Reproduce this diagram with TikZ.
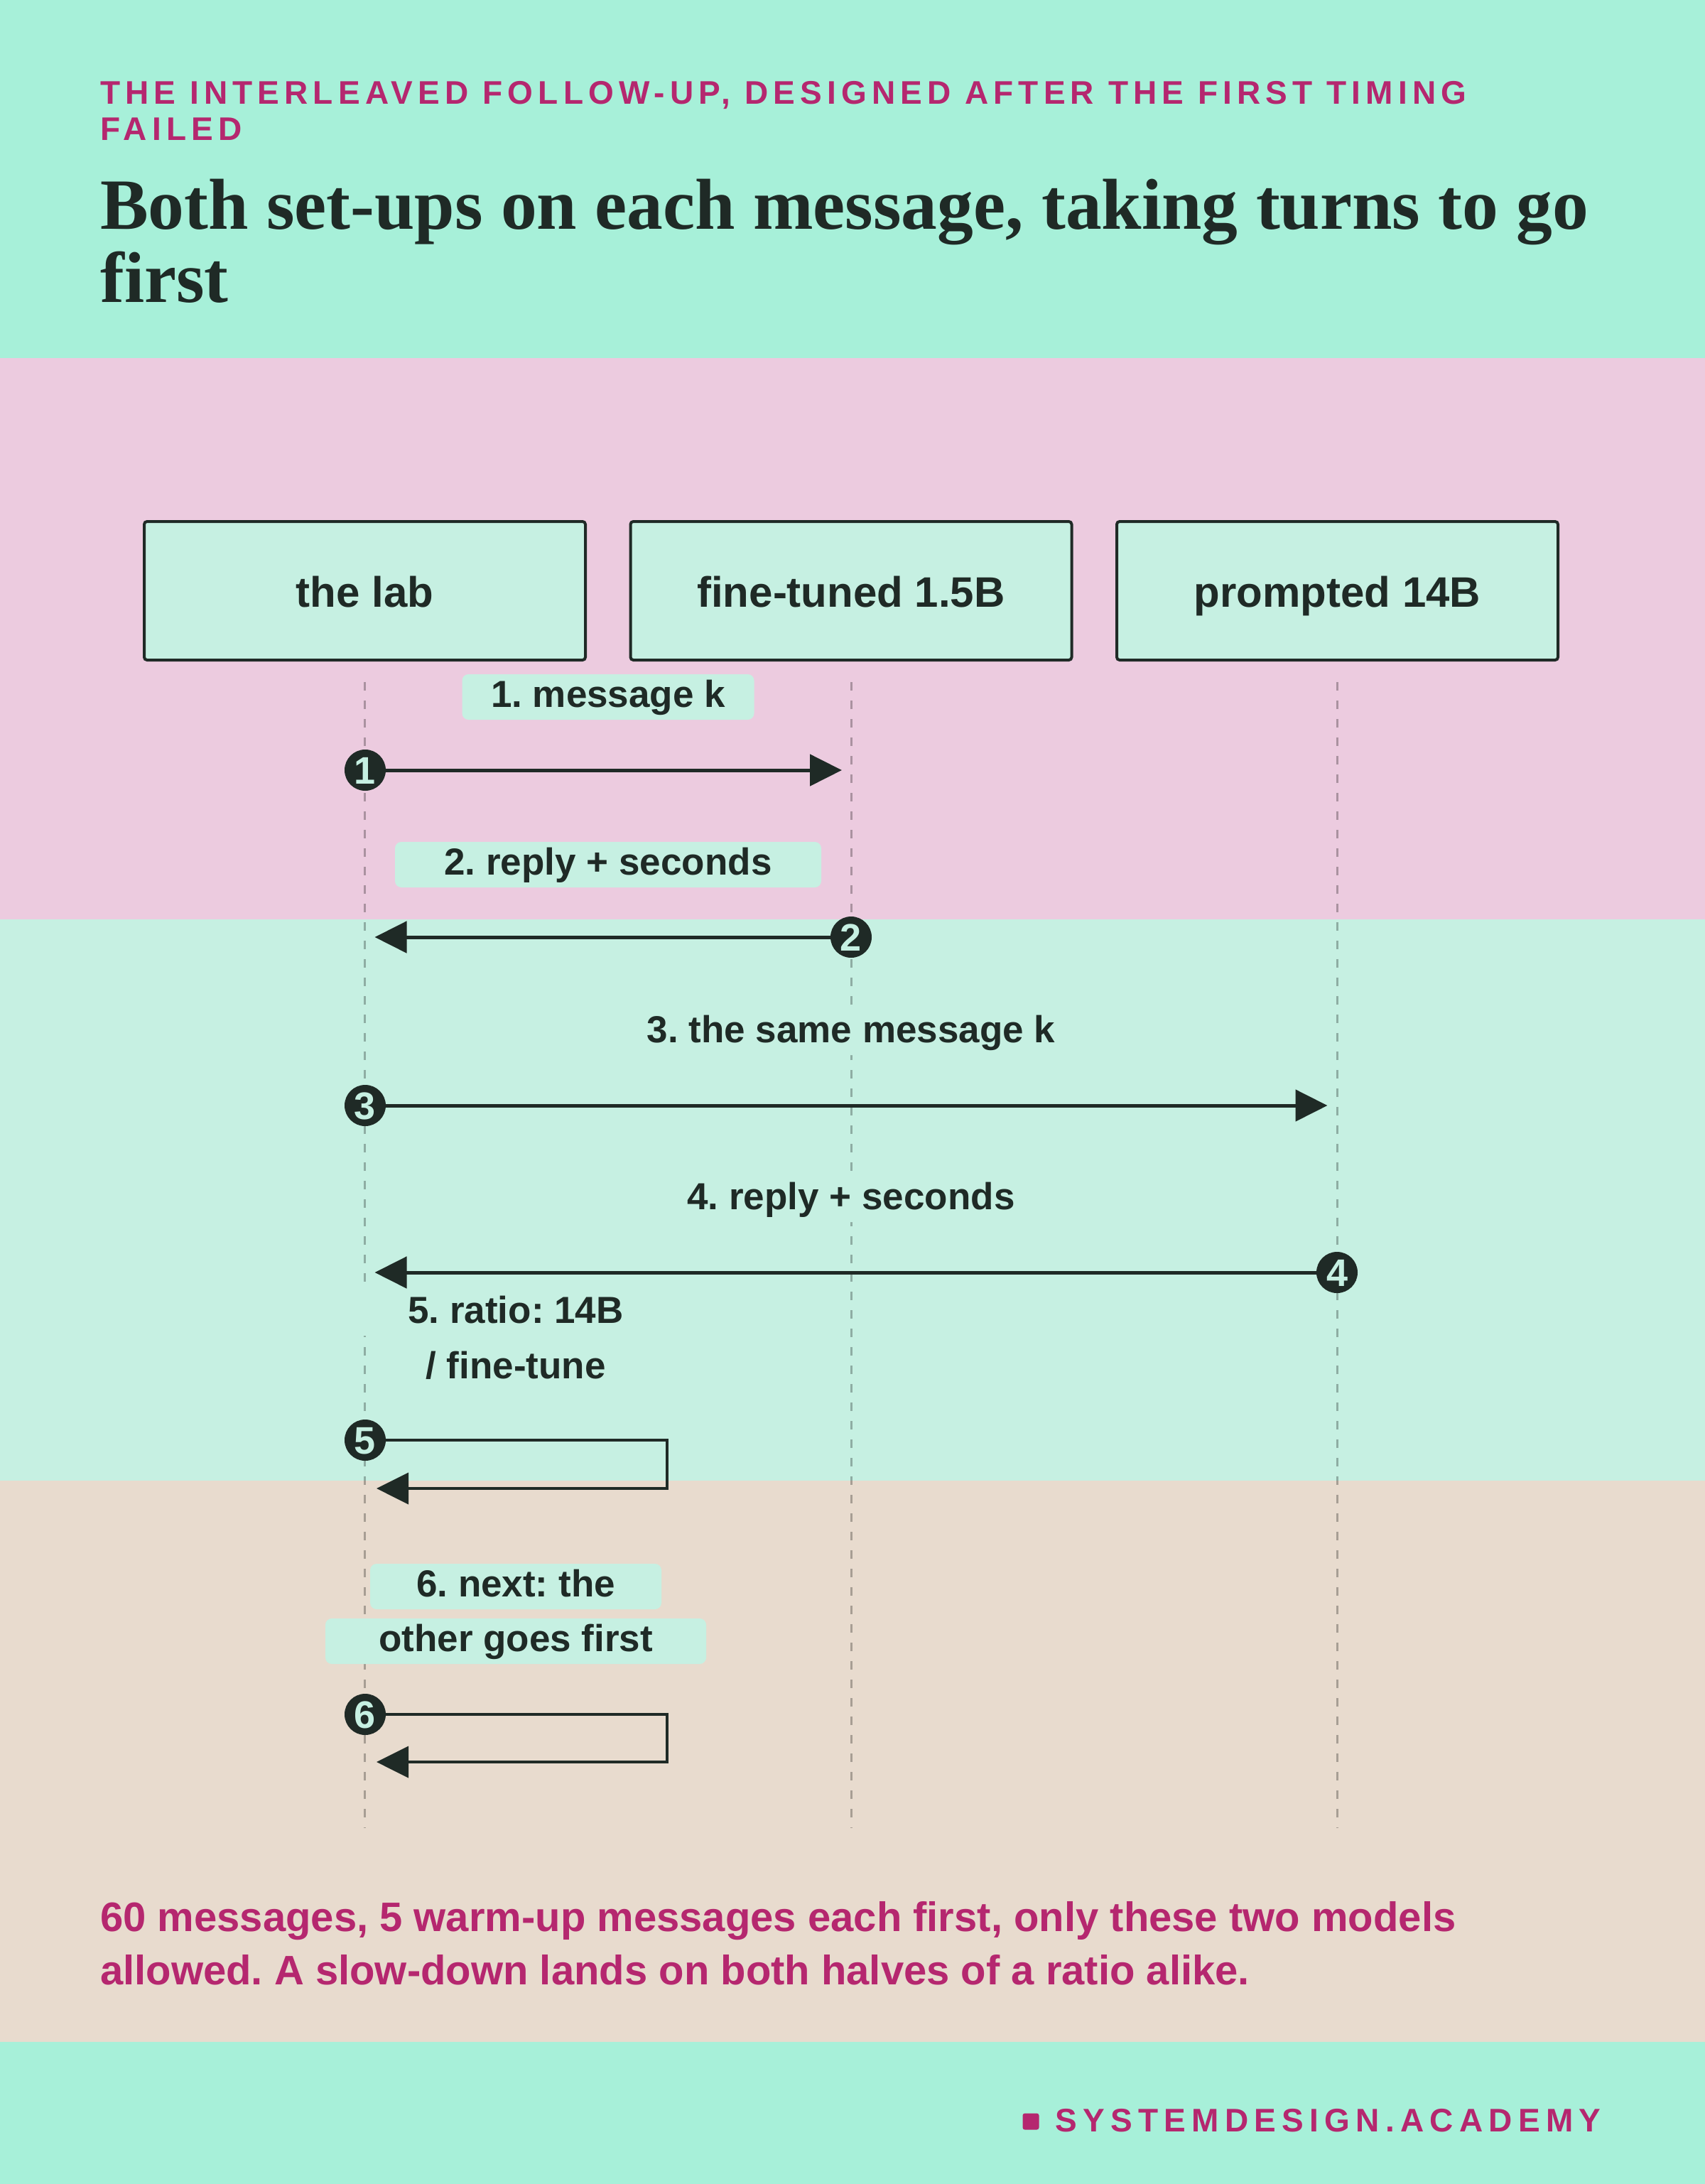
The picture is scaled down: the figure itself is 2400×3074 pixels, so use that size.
\documentclass[tikz,border=0pt]{standalone}
\usepackage{fontspec}
\setmainfont{Liberation Sans}
\newfontfamily\titlefont{Liberation Serif}
\newfontfamily\trackA[LetterSpace=15.5]{Liberation Sans}
\newfontfamily\trackB[LetterSpace=18]{Liberation Sans}
\usetikzlibrary{arrows.meta}
\frenchspacing
\definecolor{mintA}{HTML}{A7F0D9}
\definecolor{pinkB}{HTML}{ECCBDF}
\definecolor{mintC}{HTML}{C6F0E2}
\definecolor{beigeD}{HTML}{E8DBCE}
\definecolor{inkD}{HTML}{1F2A26}
\definecolor{magE}{HTML}{B5276F}
\tikzset{
  participant/.style={draw=inkD, line width=4pt, fill=mintC, rounded corners=4pt,
    minimum width=621pt, minimum height=195pt, inner sep=0pt, text=inkD,
    text height=58pt, text depth=13pt,
    font=\fontsize{60}{72}\selectfont\bfseries},
  lifeline/.style={draw=black, draw opacity=0.28, line width=3pt, dash pattern=on 12pt off 14pt},
  msglabel/.style={fill=mintC, rounded corners=9pt, text=inkD, inner sep=0pt,
    minimum height=64pt, text height=39pt, text depth=11pt,
    font=\fontsize{53}{64}\selectfont\bfseries},
  stepdot/.style={circle, fill=inkD, minimum size=58pt, inner sep=0pt, text=mintC,
    text height=39pt, text depth=0pt,
    font=\fontsize{54}{54}\selectfont\bfseries},
  msg/.style={draw=inkD, line width=5pt, -{Triangle[length=45pt,width=44pt]}},
  loopmsg/.style={draw=inkD, line width=4pt, -{Triangle[length=45pt,width=44pt]}},
  plain/.style={inner sep=0pt, anchor=base west},
}
\begin{document}
\begin{tikzpicture}[x=1pt,y=-1pt]
\useasboundingbox (0,0) rectangle (2400,3074);
% bands
\fill[mintA] (0,0) rectangle (2400,504);
\fill[pinkB] (0,504) rectangle (2400,1294);
\fill[mintC] (0,1294) rectangle (2400,2084);
\fill[beigeD] (0,2084) rectangle (2400,2874);
\fill[mintA] (0,2874) rectangle (2400,3074);
% header
\node[plain, text=magE, font=\trackA\fontsize{46}{51}\selectfont\bfseries] (hdr1) at (141,146) {THE INTERLEAVED FOLLOW-UP, DESIGNED AFTER THE FIRST TIMING};
\node[plain, text=magE, font=\trackA\fontsize{46}{51}\selectfont\bfseries] (hdr2) at (141,197) {FAILED};
\node[plain, text=inkD, font=\titlefont\fontsize{101.5}{103}\selectfont\bfseries] (ttl1) at (141,322) {Both set-ups on each message, taking turns to go};
\node[plain, text=inkD, font=\titlefont\fontsize{101.5}{103}\selectfont\bfseries] (ttl2) at (141,425) {first};
% participants
\node[participant] (lab) at (513.5,831.5) {the lab};
\node[participant] (ft) at (1198,831.5) {fine-tuned 1.5B};
\node[participant] (pr) at (1882.5,831.5) {prompted 14B};
% lifelines
\coordinate (lifetop) at (0,960);
\coordinate (lifebot) at (0,2573);
\draw[lifeline] (lab |- lifetop) -- (lab |- lifebot);
\draw[lifeline] (ft |- lifetop) -- (ft |- lifebot);
\draw[lifeline] (pr |- lifetop) -- (pr |- lifebot);
% message labels
\node[msglabel, minimum width=411pt] (m1) at (856,981) {1. message k};
\node[msglabel, minimum width=600pt] (m2) at (856,1217) {2. reply + seconds};
\node[msglabel, minimum width=712pt] (m3) at (1198,1453) {3. the same message k};
\node[msglabel, minimum width=600pt] (m4) at (1198,1688) {4. reply + seconds};
\node[msglabel, minimum width=444pt] (m5a) at (726,1848) {5. ratio: 14B};
\node[msglabel, minimum width=377pt] (m5b) at (726,1926) {/ fine-tune};
\node[msglabel, minimum width=410pt] (m6a) at (726,2233) {6. next: the};
\node[msglabel, minimum width=536pt] (m6b) at (726,2310) {other goes first};
% step dots
\node[stepdot] (c1) at (514,1084) {1};
\node[stepdot] (c2) at (1198,1319) {2};
\node[stepdot] (c3) at (514,1556) {3};
\node[stepdot] (c4) at (1882,1791) {4};
\node[stepdot] (c5) at (514,2027) {5};
\node[stepdot] (c6) at (514,2413) {6};
% arrows
\draw[msg, shorten >=13pt] (c1) -- (c1 -| ft);
\draw[msg, shorten >=14pt] (c2) -- (c2 -| lab);
\draw[msg, shorten >=14pt] (c3) -- (c3 -| pr);
\draw[msg, shorten >=14pt] (c4) -- (c4 -| lab);
\coordinate (k5a) at (939,2027);
\coordinate (k5b) at (939,2095);
\coordinate (k5c) at (514,2095);
\draw[loopmsg, shorten >=16pt] (c5) -- (k5a) -- (k5b) -- (k5c);
\coordinate (k6a) at (939,2413);
\coordinate (k6b) at (939,2480);
\coordinate (k6c) at (514,2480);
\draw[loopmsg, shorten >=16pt] (c6) -- (k6a) -- (k6b) -- (k6c);
% bottom note
\node[plain, text=magE, font=\fontsize{58}{75}\selectfont\bfseries] (note1) at (141,2718) {60 messages, 5 warm-up messages each first, only these two models};
\node[plain, text=magE, font=\fontsize{58}{75}\selectfont\bfseries] (note2) at (141,2793) {allowed. A slow-down lands on both halves of a ratio alike.};
% footer
\node[fill=magE, minimum size=23pt, inner sep=0pt, rounded corners=3pt] (sq) at (1451,2986) {};
\node[plain, text=magE, font=\trackB\fontsize{46}{51}\selectfont\bfseries] (brand) at (1485,3000) {SYSTEMDESIGN.ACADEMY};
\end{tikzpicture}
\end{document}
